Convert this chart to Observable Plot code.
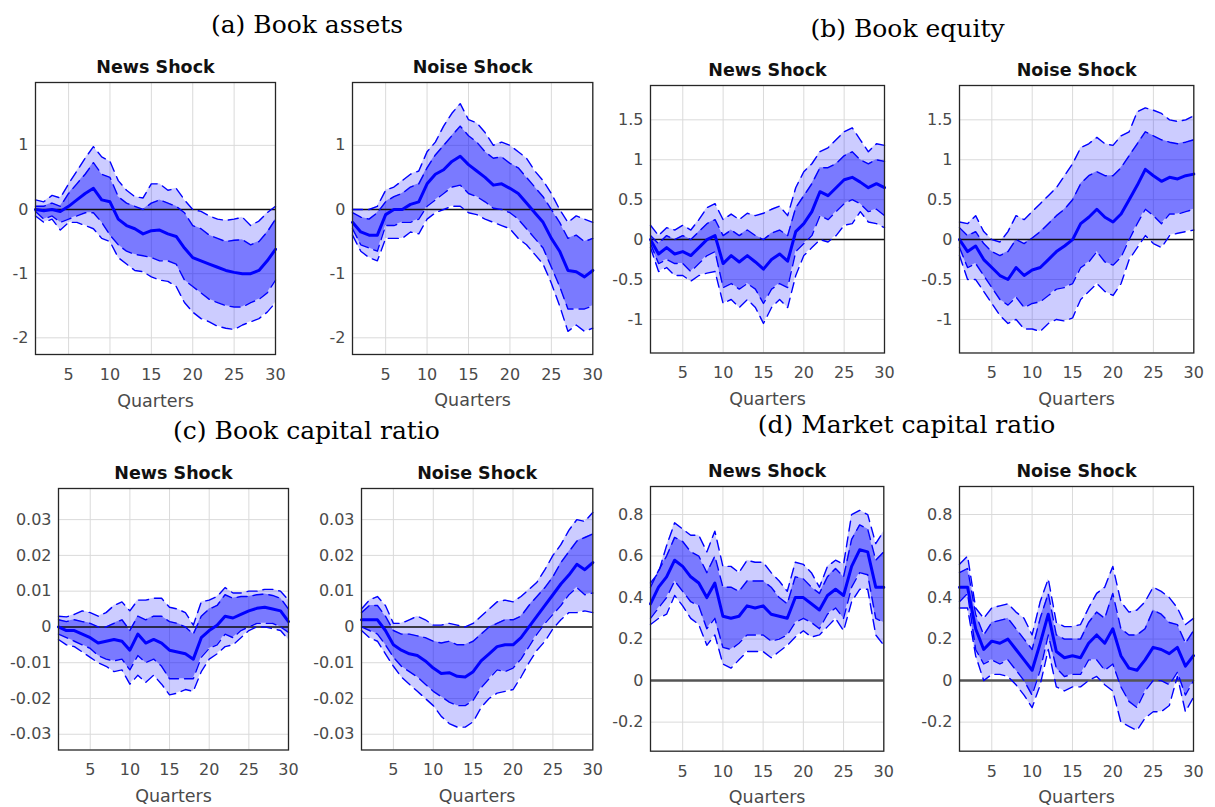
<!DOCTYPE html>
<html><head><meta charset="utf-8">
<script src="https://cdn.jsdelivr.net/npm/d3@7"></script>
<script src="https://cdn.jsdelivr.net/npm/@observablehq/plot@0.6"></script>
<style>
body{margin:0;background:#fff;}
#wrap{position:relative;width:1215px;height:807px;overflow:hidden;background:#fff;}
.sec{position:absolute;width:400px;text-align:center;font-family:"DejaVu Serif",serif;font-size:25px;line-height:25px;color:#000;white-space:nowrap;}
</style></head><body><div id="wrap"></div><script>
// ---------- data ----------
const quarters = d3.range(1, 31);
const xTicks = [5, 10, 15, 20, 25, 30];
const sectionTitles = ["(a) Book assets", "(b) Book equity", "(c) Book capital ratio", "(d) Market capital ratio"];
const panelTitles = ["News Shock", "Noise Shock"];

// (a) Book assets
const aNewsMed   = [0,-0.02,0,-0.03,0.05,0.15,0.25,0.33,0.15,0.12,-0.15,-0.25,-0.3,-0.38,-0.33,-0.32,-0.38,-0.42,-0.6,-0.75,-0.8,-0.85,-0.9,-0.95,-0.98,-1.0,-1.0,-0.95,-0.8,-0.62];
const aNewsInHi  = [0.05,0.05,0.1,0.05,0.25,0.4,0.55,0.73,0.55,0.5,0.2,0.1,0.05,0.0,0.1,0.15,0.1,0.05,-0.05,-0.25,-0.3,-0.4,-0.45,-0.5,-0.48,-0.47,-0.55,-0.5,-0.35,-0.15];
const aNewsInLo  = [-0.03,-0.15,-0.1,-0.2,-0.15,-0.1,-0.05,-0.05,-0.2,-0.4,-0.55,-0.65,-0.7,-0.72,-0.75,-0.8,-0.8,-0.85,-1.1,-1.2,-1.3,-1.4,-1.45,-1.5,-1.52,-1.52,-1.45,-1.4,-1.3,-1.1];
const aNewsOutHi = [0.15,0.12,0.22,0.18,0.4,0.6,0.8,0.98,0.82,0.75,0.45,0.3,0.2,0.18,0.4,0.4,0.3,0.33,0.15,0.0,-0.03,-0.1,-0.15,-0.17,-0.15,-0.12,-0.25,-0.18,-0.05,0.05];
const aNewsOutLo = [-0.1,-0.2,-0.15,-0.32,-0.2,-0.2,-0.25,-0.3,-0.45,-0.5,-0.75,-0.85,-0.95,-0.97,-1.05,-1.1,-1.12,-1.2,-1.45,-1.6,-1.7,-1.75,-1.82,-1.85,-1.87,-1.8,-1.75,-1.7,-1.6,-1.45];

const aNoiseMed   = [-0.2,-0.35,-0.4,-0.4,-0.08,0.0,0.0,0.08,0.12,0.4,0.55,0.62,0.75,0.83,0.7,0.6,0.5,0.38,0.4,0.33,0.25,0.1,-0.05,-0.2,-0.45,-0.65,-0.95,-0.97,-1.05,-0.95];
const aNoiseInHi  = [-0.05,-0.12,-0.15,-0.05,0.12,0.2,0.25,0.35,0.4,0.65,0.85,1.0,1.15,1.3,1.15,1.05,0.9,0.8,0.82,0.72,0.65,0.5,0.35,0.2,0.0,-0.2,-0.45,-0.4,-0.5,-0.45];
const aNoiseInLo  = [-0.3,-0.55,-0.6,-0.65,-0.25,-0.25,-0.2,-0.2,-0.15,0.05,0.15,0.25,0.35,0.38,0.25,0.2,0.12,0.02,0.0,-0.05,-0.15,-0.3,-0.45,-0.6,-0.9,-1.2,-1.55,-1.55,-1.55,-1.5];
const aNoiseOutHi = [0.0,0.0,0.0,0.05,0.3,0.35,0.45,0.55,0.6,0.9,1.05,1.3,1.5,1.65,1.4,1.35,1.2,1.0,1.05,1.0,0.9,0.8,0.6,0.45,0.25,0.0,-0.2,-0.1,-0.15,-0.2];
const aNoiseOutLo = [-0.4,-0.65,-0.75,-0.8,-0.45,-0.45,-0.45,-0.35,-0.38,-0.15,-0.05,0.0,0.05,0.05,-0.05,-0.08,-0.15,-0.2,-0.25,-0.3,-0.45,-0.55,-0.7,-0.85,-1.15,-1.5,-1.9,-1.8,-1.9,-1.85];

// (b) Book equity
const bNewsMed   = [0.0,-0.18,-0.1,-0.18,-0.15,-0.2,-0.1,0.0,0.05,-0.3,-0.2,-0.28,-0.2,-0.28,-0.37,-0.25,-0.18,-0.27,0.1,0.2,0.35,0.6,0.55,0.65,0.75,0.78,0.72,0.65,0.7,0.65];
const bNewsInHi  = [0.05,-0.05,0.05,0.0,0.05,0.0,0.1,0.2,0.25,0.05,0.12,0.05,0.12,0.05,0.0,0.08,0.12,0.05,0.4,0.55,0.7,0.9,0.9,0.95,1.05,1.1,1.0,0.95,1.0,0.98];
const bNewsInLo  = [-0.05,-0.3,-0.25,-0.3,-0.3,-0.4,-0.3,-0.2,-0.15,-0.6,-0.55,-0.62,-0.55,-0.62,-0.8,-0.62,-0.55,-0.6,-0.15,-0.05,0.05,0.3,0.25,0.35,0.45,0.5,0.45,0.35,0.38,0.3];
const bNewsOutHi = [0.18,0.05,0.15,0.12,0.18,0.12,0.25,0.4,0.45,0.25,0.32,0.25,0.33,0.3,0.33,0.38,0.42,0.3,0.65,0.85,0.95,1.1,1.15,1.25,1.35,1.4,1.25,1.1,1.2,1.18];
const bNewsOutLo = [-0.1,-0.4,-0.35,-0.45,-0.45,-0.52,-0.45,-0.42,-0.4,-0.8,-0.75,-0.85,-0.75,-0.85,-1.05,-0.85,-0.75,-0.85,-0.45,-0.2,-0.1,0.0,-0.03,0.05,0.18,0.2,0.35,0.22,0.2,0.15];

const bNoiseMed   = [0.0,-0.15,-0.08,-0.25,-0.35,-0.45,-0.5,-0.35,-0.45,-0.38,-0.35,-0.25,-0.15,-0.08,0.0,0.2,0.28,0.38,0.28,0.22,0.32,0.5,0.68,0.88,0.8,0.73,0.78,0.76,0.8,0.82];
const bNoiseInHi  = [0.15,0.05,0.1,-0.05,-0.15,-0.2,-0.15,0.0,-0.05,0.02,0.1,0.2,0.3,0.38,0.5,0.7,0.8,0.85,0.8,0.8,0.9,1.05,1.2,1.35,1.3,1.25,1.22,1.2,1.22,1.25];
const bNoiseInLo  = [-0.1,-0.35,-0.3,-0.45,-0.6,-0.75,-0.82,-0.72,-0.85,-0.8,-0.78,-0.7,-0.62,-0.6,-0.55,-0.35,-0.28,-0.15,-0.28,-0.32,-0.22,0.0,0.2,0.38,0.3,0.2,0.32,0.32,0.35,0.38];
const bNoiseOutHi = [0.22,0.2,0.3,0.1,0.0,-0.03,0.1,0.3,0.25,0.35,0.45,0.55,0.65,0.8,0.95,1.15,1.2,1.28,1.2,1.18,1.3,1.35,1.6,1.65,1.62,1.58,1.5,1.48,1.5,1.55];
const bNoiseOutLo = [-0.2,-0.5,-0.5,-0.65,-0.8,-0.95,-1.05,-1.0,-1.12,-1.12,-1.15,-1.05,-1.0,-1.02,-0.98,-0.75,-0.65,-0.55,-0.65,-0.7,-0.55,-0.25,-0.1,0.05,-0.05,-0.1,0.05,0.08,0.1,0.12];

// (c) Book capital ratio
const cNewsMed   = [0.0,-0.001,-0.001,-0.002,-0.003,-0.0045,-0.004,-0.0035,-0.004,-0.0065,-0.002,-0.0045,-0.0035,-0.0045,-0.0065,-0.007,-0.0075,-0.009,-0.003,-0.001,0.0005,0.003,0.0025,0.0035,0.0045,0.0052,0.0055,0.005,0.0045,0.0015];
const cNewsInHi  = [0.002,0.0015,0.002,0.0015,0.001,0.0,0.0,0.001,0.002,-0.001,0.003,0.002,0.003,0.003,0.0015,0.001,0.0,-0.002,0.003,0.005,0.006,0.009,0.008,0.0085,0.0085,0.009,0.0092,0.0088,0.008,0.005];
const cNewsInLo  = [-0.002,-0.003,-0.004,-0.005,-0.006,-0.008,-0.009,-0.0095,-0.009,-0.012,-0.008,-0.01,-0.009,-0.011,-0.0145,-0.0145,-0.0145,-0.0145,-0.0085,-0.006,-0.005,-0.002,-0.003,-0.001,0.0,0.001,0.001,0.001,0.0,-0.0015];
const cNewsOutHi = [0.003,0.0028,0.0035,0.0045,0.004,0.003,0.004,0.006,0.007,0.0045,0.0075,0.0075,0.008,0.008,0.0055,0.005,0.004,0.0005,0.007,0.0075,0.0085,0.011,0.0095,0.0095,0.01,0.01,0.0105,0.0105,0.01,0.0075];
const cNewsOutLo = [-0.0035,-0.005,-0.0055,-0.007,-0.0085,-0.01,-0.011,-0.0125,-0.012,-0.016,-0.0135,-0.0155,-0.0135,-0.016,-0.019,-0.0185,-0.0175,-0.018,-0.0125,-0.009,-0.0075,-0.0055,-0.005,-0.003,-0.001,0.0,0.0,-0.0005,-0.001,-0.0035];

const cNoiseMed   = [0.002,0.002,0.002,-0.001,-0.005,-0.0065,-0.0075,-0.008,-0.0095,-0.0115,-0.013,-0.0128,-0.0138,-0.014,-0.0125,-0.0095,-0.0075,-0.0055,-0.005,-0.005,-0.003,0.0,0.003,0.006,0.009,0.012,0.0145,0.0175,0.016,0.018];
const cNoiseInHi  = [0.004,0.006,0.006,0.003,-0.001,-0.002,-0.002,-0.0025,-0.003,-0.004,-0.0045,-0.004,-0.005,-0.005,-0.004,-0.002,0.0,0.001,0.002,0.002,0.003,0.006,0.0085,0.011,0.014,0.018,0.021,0.024,0.025,0.026];
const cNoiseInLo  = [0.0,-0.001,-0.002,-0.005,-0.0085,-0.011,-0.0125,-0.014,-0.016,-0.018,-0.0195,-0.021,-0.022,-0.022,-0.0205,-0.017,-0.0145,-0.012,-0.0125,-0.0115,-0.009,-0.0055,-0.002,0.001,0.0035,0.006,0.009,0.011,0.009,0.0095];
const cNoiseOutHi = [0.005,0.0075,0.0085,0.006,0.001,0.001,0.002,0.003,0.002,0.0005,0.0005,0.001,0.0005,0.0,0.001,0.003,0.005,0.007,0.0075,0.007,0.0085,0.0105,0.0125,0.016,0.02,0.023,0.027,0.03,0.0295,0.032];
const cNoiseOutLo = [-0.001,-0.003,-0.004,-0.0075,-0.011,-0.014,-0.016,-0.018,-0.02,-0.022,-0.025,-0.027,-0.028,-0.028,-0.0265,-0.0225,-0.02,-0.0185,-0.018,-0.0175,-0.014,-0.01,-0.0065,-0.004,-0.0005,0.002,0.004,0.004,0.0045,0.004];

// (d) Market capital ratio
const dNewsMed   = [0.37,0.45,0.5,0.58,0.55,0.5,0.47,0.4,0.47,0.31,0.3,0.31,0.36,0.35,0.36,0.32,0.31,0.3,0.4,0.4,0.37,0.34,0.41,0.44,0.41,0.55,0.63,0.62,0.45,0.45];
const dNewsInHi  = [0.45,0.53,0.6,0.69,0.67,0.62,0.6,0.52,0.6,0.45,0.45,0.43,0.48,0.48,0.48,0.45,0.4,0.37,0.5,0.49,0.45,0.42,0.5,0.54,0.5,0.68,0.75,0.73,0.58,0.62];
const dNewsInLo  = [0.3,0.35,0.4,0.48,0.43,0.38,0.36,0.25,0.3,0.16,0.15,0.18,0.22,0.22,0.22,0.19,0.2,0.22,0.28,0.3,0.28,0.25,0.32,0.35,0.3,0.45,0.52,0.51,0.3,0.28];
const dNewsOutHi = [0.47,0.52,0.65,0.76,0.73,0.7,0.7,0.62,0.72,0.55,0.55,0.52,0.58,0.57,0.57,0.52,0.48,0.43,0.57,0.56,0.52,0.45,0.55,0.58,0.56,0.8,0.82,0.8,0.66,0.72];
const dNewsOutLo = [0.27,0.3,0.32,0.41,0.36,0.3,0.27,0.17,0.22,0.08,0.06,0.1,0.14,0.14,0.14,0.11,0.14,0.17,0.21,0.24,0.21,0.22,0.26,0.3,0.24,0.38,0.44,0.44,0.22,0.17];

const dNoiseMed   = [0.45,0.45,0.25,0.15,0.19,0.18,0.2,0.15,0.1,0.05,0.18,0.32,0.14,0.11,0.12,0.11,0.18,0.22,0.18,0.25,0.12,0.06,0.05,0.1,0.16,0.15,0.13,0.16,0.07,0.12];
const dNoiseInHi  = [0.52,0.54,0.32,0.22,0.28,0.29,0.3,0.25,0.2,0.15,0.3,0.42,0.22,0.2,0.2,0.2,0.28,0.33,0.3,0.42,0.25,0.22,0.22,0.25,0.34,0.32,0.28,0.27,0.18,0.24];
const dNoiseInLo  = [0.38,0.42,0.15,0.08,0.1,0.08,0.1,0.05,0.0,-0.07,0.05,0.22,0.06,0.02,0.03,0.03,0.1,0.1,0.05,0.08,-0.03,-0.1,-0.13,-0.05,0.0,0.0,-0.02,0.04,-0.07,0.0];
const dNoiseOutHi = [0.56,0.6,0.35,0.3,0.35,0.36,0.37,0.33,0.3,0.22,0.38,0.49,0.28,0.26,0.26,0.27,0.35,0.42,0.45,0.55,0.38,0.33,0.34,0.38,0.45,0.43,0.4,0.35,0.27,0.3];
const dNoiseOutLo = [0.35,0.35,0.12,0.0,0.03,0.03,0.02,-0.02,-0.07,-0.13,-0.02,0.15,-0.03,-0.05,-0.03,-0.03,0.0,0.02,-0.02,-0.05,-0.2,-0.22,-0.24,-0.18,-0.15,-0.15,-0.12,0.02,-0.15,-0.08];

// y tick labels per row of panels
const aTicks = [-2, -1, 0, 1];
const bTicks = [-1, -0.5, 0, 0.5, 1, 1.5];
const cTicks = [-0.03, -0.02, -0.01, 0, 0.01, 0.02, 0.03];
const dTicks = [-0.2, 0, 0.2, 0.4, 0.6, 0.8];

// ---------- layout ----------
const wrap = document.getElementById("wrap");
const secPos = [[307, 33], [907.5, 37], [306.5, 439.3], [906.5, 433.5]];
sectionTitles.forEach((t, i) => {
  const d = document.createElement("div");
  d.className = "sec";
  d.textContent = t;
  d.style.left = (secPos[i][0] - 200) + "px";
  d.style.top = (secPos[i][1] - 21.2) + "px";
  wrap.appendChild(d);
});

const panels = [
  {title: panelTitles[0], med: aNewsMed, inLo: aNewsInLo, inHi: aNewsInHi, outLo: aNewsOutLo, outHi: aNewsOutHi, yDomain: [-2.26, 1.98], yTicks: aTicks, box: [35, 82, 275, 354], zero: ["#111", 1.5]},
  {title: panelTitles[1], med: aNoiseMed, inLo: aNoiseInLo, inHi: aNoiseInHi, outLo: aNoiseOutLo, outHi: aNoiseOutHi, yDomain: [-2.26, 1.98], yTicks: aTicks, box: [351.7, 82, 592, 354], zero: ["#111", 1.5]},
  {title: panelTitles[0], med: bNewsMed, inLo: bNewsInLo, inHi: bNewsInHi, outLo: bNewsOutLo, outHi: bNewsOutHi, yDomain: [-1.42, 1.93], yTicks: bTicks, box: [650, 84.5, 884, 352], zero: ["#111", 1.5]},
  {title: panelTitles[1], med: bNoiseMed, inLo: bNoiseInLo, inHi: bNoiseInHi, outLo: bNoiseOutLo, outHi: bNoiseOutHi, yDomain: [-1.42, 1.93], yTicks: bTicks, box: [959, 84.5, 1193.3, 352], zero: ["#111", 1.5]},
  {title: panelTitles[0], med: cNewsMed, inLo: cNewsInLo, inHi: cNewsInHi, outLo: cNewsOutLo, outHi: cNewsOutHi, yDomain: [-0.0344, 0.0387], yTicks: cTicks, box: [57.7, 487.5, 287.7, 749], zero: ["#111", 1.5]},
  {title: panelTitles[1], med: cNoiseMed, inLo: cNoiseInLo, inHi: cNoiseInHi, outLo: cNoiseOutLo, outHi: cNoiseOutHi, yDomain: [-0.0344, 0.0387], yTicks: cTicks, box: [361, 487.5, 592.3, 749], zero: ["#111", 1.5]},
  {title: panelTitles[0], med: dNewsMed, inLo: dNewsInLo, inHi: dNewsInHi, outLo: dNewsOutLo, outHi: dNewsOutHi, yDomain: [-0.34, 0.935], yTicks: dTicks, box: [650, 486, 883.3, 750.7], zero: ["#555", 2.5]},
  {title: panelTitles[1], med: dNoiseMed, inLo: dNoiseInLo, inHi: dNoiseInHi, outLo: dNoiseOutLo, outHi: dNoiseOutHi, yDomain: [-0.34, 0.935], yTicks: dTicks, box: [959.3, 486, 1193.3, 750.7], zero: ["#555", 2.5]}
];

const mL = 50, mR = 12, mT = 32, mB = 58;
panels.forEach(p => {
  const rows = quarters.map((q, i) => ({q, med: p.med[i], inLo: p.inLo[i], inHi: p.inHi[i], outLo: p.outLo[i], outHi: p.outHi[i]}));
  const [L, T, R, B] = p.box;
  const dashed = ["outLo", "outHi", "inLo", "inHi"].map(k =>
    Plot.line(rows, {x: "q", y: k, stroke: "#0000ff", strokeWidth: 1.4, strokeDasharray: "10,6"}));
  const svg = Plot.plot({
    width: R - L + mL + mR,
    height: B - T + mT + mB,
    marginLeft: mL, marginRight: mR, marginTop: mT, marginBottom: mB,
    x: {domain: [1, 30]},
    y: {domain: p.yDomain},
    style: {fontFamily: '"DejaVu Sans", sans-serif', fontSize: "16px", color: "#4a4a4a", background: "transparent", overflow: "visible"},
    marks: [
      Plot.gridX(xTicks, {stroke: "#dadada", strokeOpacity: 1, strokeWidth: 1}),
      Plot.gridY(p.yTicks, {stroke: "#dadada", strokeOpacity: 1, strokeWidth: 1}),
      Plot.areaY(rows, {x: "q", y1: "outLo", y2: "outHi", fill: "#0000ff", fillOpacity: 0.2}),
      Plot.areaY(rows, {x: "q", y1: "inLo", y2: "inHi", fill: "#0000ff", fillOpacity: 0.4}),
      Plot.ruleY([0], {stroke: p.zero[0], strokeWidth: p.zero[1]}),
      ...dashed,
      Plot.line(rows, {x: "q", y: "med", stroke: "#0000ff", strokeWidth: 3}),
      Plot.frame({stroke: "#262626", strokeWidth: 1.3}),
      Plot.axisX(xTicks, {tickSize: 0, tickPadding: 14, label: null, fontSize: 16}),
      Plot.axisY(p.yTicks, {tickSize: 0, tickPadding: 7, label: null, fontSize: 16, tickFormat: d => String(d)}),
      Plot.text([p.title], {text: d => d, frameAnchor: "top", lineAnchor: "bottom", dy: -9.5, fontWeight: "bold", fontSize: 17.5, fill: "#111"}),
      Plot.text(["Quarters"], {text: d => d, frameAnchor: "bottom", lineAnchor: "bottom", dy: 52, fontSize: 17.5, fill: "#4a4a4a"})
    ]
  });
  svg.style.position = "absolute";
  svg.style.left = (L - mL) + "px";
  svg.style.top = (T - mT) + "px";
  wrap.appendChild(svg);
});
</script></body></html>
